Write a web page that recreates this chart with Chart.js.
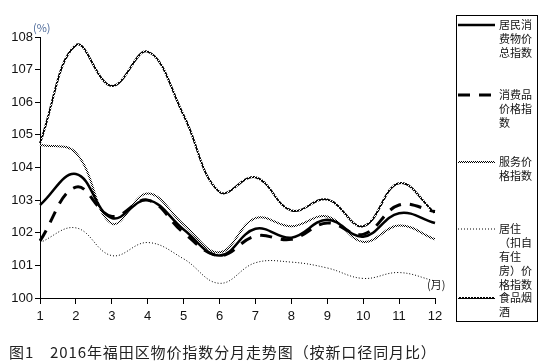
<!DOCTYPE html>
<html>
<head>
<meta charset="utf-8">
<script src="https://cdn.jsdelivr.net/npm/chart.js@4"></script>
<style>
  html, body { margin: 0; padding: 0; background: #fff; }
  #wrap { position: relative; width: 541px; height: 362px; overflow: hidden; }
  #c { position: absolute; left: 0; top: 0; }
  .lbl { position: absolute; font-family: "Noto Sans CJK SC", sans-serif; color: #222; white-space: nowrap; }
</style>
</head>
<body>
<div id="wrap">
  <canvas id="c" width="541" height="362"></canvas>
  <div class="lbl" style="left:33px;top:19px;font-size:11px;color:#4d6a9a;">(%)</div>
  <div class="lbl" style="left:427px;top:276px;font-size:11px;">(月)</div>
  <div class="lbl" style="left:9px;top:341px;font-size:15px;letter-spacing:0.9px;">图1　2016年福田区物价指数分月走势图（按新口径同月比）</div>
</div>
<script>
// months on the x axis
const months = ['1', '2', '3', '4', '5', '6', '7', '8', '9', '10', '11', '12'];

// series (same month last year = 100)
const cpiTotal   = [102.85, 103.8, 102.45, 103.0, 102.1, 101.3, 102.12, 101.85, 102.4, 101.88, 102.6, 102.3];
const goods      = [101.75, 103.4, 102.5, 103.0, 102.0, 101.3, 101.9, 101.8, 102.3, 101.95, 102.85, 102.65];
const services   = [104.7, 104.45, 102.28, 103.2, 102.25, 101.4, 102.45, 102.2, 102.5, 101.72, 102.22, 101.8];
const housing    = [101.7, 102.15, 101.3, 101.7, 101.2, 100.45, 101.08, 101.1, 100.92, 100.6, 100.78, 100.52];
const food       = [104.75, 107.75, 106.5, 107.55, 105.6, 103.25, 103.7, 102.68, 103.02, 102.2, 103.52, 102.6];

const seriesNames = [
  ['居民消', '费物价', '总指数'],
  ['消费品', '价格指', '数'],
  ['服务价', '格指数'],
  ['居住', '（扣自', '有住', '房）价', '格指数'],
  ['食品烟', '酒']
];

const canvas = document.getElementById('c');
const ctx = canvas.getContext('2d');

// small bitmap textures, like the hatched lines of the original
function makePattern(rows) {
  const p = document.createElement('canvas');
  p.width = rows[0].length;
  p.height = rows.length;
  const pc = p.getContext('2d');
  pc.fillStyle = '#fff';
  pc.fillRect(0, 0, p.width, p.height);
  pc.fillStyle = '#000';
  rows.forEach((r, j) => [...r].forEach((ch, i) => { if (ch === '#') pc.fillRect(i, j, 1, 1); }));
  return ctx.createPattern(p, 'repeat');
}
const foodTex = makePattern(['##.', '###', '.##']);
const servTex = makePattern(['#.', '.#']);

// legend drawn into the free column on the right
const sideLegend = {
  id: 'sideLegend',
  afterDraw(chart) {
    const c = chart.ctx;
    c.save();
    c.strokeStyle = '#000';
    c.lineWidth = 1;
    c.setLineDash([]);
    c.strokeRect(456.5, 15.5, 81, 306);
    const rows = [25, 95, 162, 229, 298];
    c.font = '11px "Noto Sans CJK SC", sans-serif';
    c.textBaseline = 'middle';
    chart.data.datasets.forEach((ds, i) => {
      const y = rows[i];
      c.save();
      c.strokeStyle = ds.borderColor;
      c.lineWidth = ds.borderWidth;
      c.setLineDash(ds.borderDash || []);
      c.beginPath();
      c.moveTo(458, y);
      c.lineTo(495, y);
      c.stroke();
      c.restore();
      c.fillStyle = '#111';
      seriesNames[i].forEach((t, k) => c.fillText(t, 499, rows[i] + k * 14));
    });
    c.restore();
  }
};

new Chart(ctx, {
  type: 'line',
  data: {
    labels: months,
    datasets: [
      { label: '居民消费物价总指数', data: cpiTotal, borderColor: '#000', borderWidth: 2.5 },
      { label: '消费品价格指数', data: goods, borderColor: '#000', borderWidth: 3, borderDash: [12, 9] },
      { label: '服务价格指数', data: services, borderColor: servTex, borderWidth: 2 },
      { label: '居住（扣自有住房）价格指数', data: housing, borderColor: '#000', borderWidth: 1, borderDash: [1, 2] },
      { label: '食品烟酒', data: food, borderColor: foodTex, borderWidth: 2 }
    ]
  },
  options: {
    responsive: false,
    animation: false,
    events: [],
    layout: { padding: { left: 0, top: 37, right: 106, bottom: 0 } },
    elements: {
      line: { tension: 0.4, fill: false, borderCapStyle: 'butt' },
      point: { radius: 0 }
    },
    plugins: { legend: { display: false }, tooltip: { enabled: false } },
    scales: {
      x: {
        type: 'category',
        offset: false,
        grid: { display: true, drawOnChartArea: false, drawTicks: true, tickLength: 6, color: '#000' },
        border: { display: true, color: '#000', width: 1 },
        ticks: { color: '#111', font: { family: 'Liberation Sans, Arial', size: 13 }, padding: 5, maxRotation: 0, autoSkip: false },
        afterFit(s) { s.height = 64; }
      },
      y: {
        min: 100,
        max: 108,
        grid: { display: true, drawOnChartArea: false, drawTicks: true, tickLength: 5, color: '#000' },
        border: { display: true, color: '#000', width: 1 },
        ticks: { stepSize: 1, color: '#111', font: { family: 'Liberation Sans, Arial', size: 13 }, padding: 2 },
        afterFit(s) { s.width = 40; }
      }
    }
  },
  plugins: [sideLegend]
});
</script>
</body>
</html>
